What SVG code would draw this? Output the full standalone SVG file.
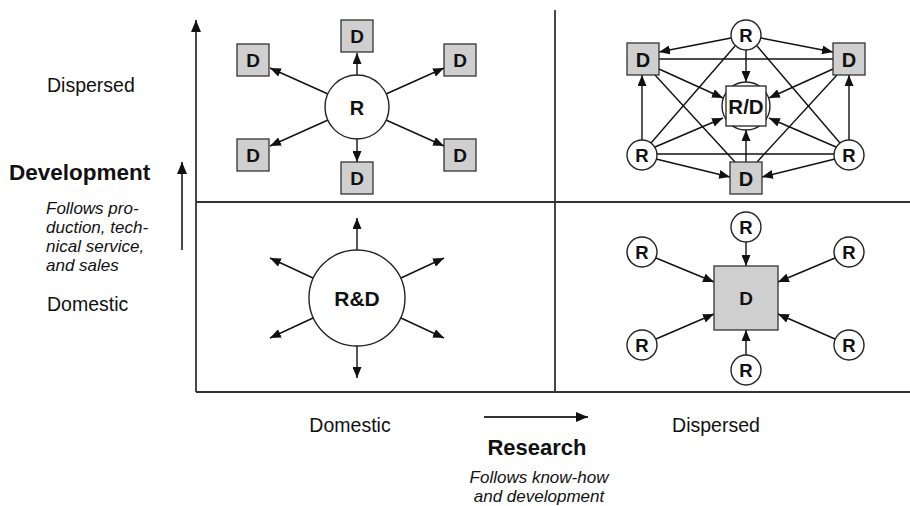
<svg xmlns="http://www.w3.org/2000/svg" width="910" height="506" viewBox="0 0 910 506">
<style>
.ax{stroke:#333;stroke-width:1.8;fill:none}
.c{stroke:#111;stroke-width:1.4;fill:none}
.ca{stroke:#111;stroke-width:1.4;fill:none;marker-end:url(#arr)}
.sq{fill:#cfcfcf;stroke:#333;stroke-width:1.3}
.ci{fill:#fff;stroke:#222;stroke-width:1.4}
.nt{font-family:"Liberation Sans",Arial,sans-serif;font-weight:bold;fill:#111;text-anchor:middle}
.lb{font-family:"Liberation Sans",Arial,sans-serif;fill:#111}
.it{font-family:"Liberation Sans",Arial,sans-serif;font-style:italic;fill:#111;font-size:17px}
</style>
<defs>
<marker id="arr" markerUnits="userSpaceOnUse" markerWidth="11" markerHeight="9" refX="11" refY="4.5" orient="auto"><path d="M0,0 L11,4.5 L0,9 z" fill="#111"/></marker>
<marker id="big" markerUnits="userSpaceOnUse" markerWidth="12" markerHeight="10" refX="12" refY="5" orient="auto"><path d="M0,0 L12,5 L0,10 z" fill="#111"/></marker>
</defs>

<g id="axes">
<line class="ax" x1="196" y1="392" x2="196" y2="20" marker-end="url(#big)"/>
<line class="ax" x1="196" y1="392" x2="910" y2="392"/>
<line class="ax" x1="196" y1="202" x2="910" y2="202"/>
<line class="ax" x1="555" y1="10" x2="555" y2="392"/>
<line class="ax" x1="182" y1="250" x2="182" y2="162" marker-end="url(#big)"/>
<line class="ax" x1="484" y1="417" x2="588" y2="417" marker-end="url(#big)"/>
</g>

<g id="labels">
<text class="lb" x="47" y="92" font-size="19.5">Dispersed</text>
<text class="lb" x="9" y="180" font-size="22.5" font-weight="bold">Development</text>
<text class="it" x="46" y="214" font-size="17.6">Follows pro-</text>
<text class="it" x="46" y="233" font-size="17.6">duction, tech-</text>
<text class="it" x="46" y="252" font-size="17.6">nical service,</text>
<text class="it" x="46" y="271" font-size="17.6">and sales</text>
<text class="lb" x="47" y="311" font-size="19.5">Domestic</text>
<text class="lb" x="350" y="432" font-size="19.5" text-anchor="middle">Domestic</text>
<text class="lb" x="716" y="432" font-size="19.5" text-anchor="middle">Dispersed</text>
<text class="lb" x="537" y="455" font-size="22" font-weight="bold" text-anchor="middle">Research</text>
<text class="it" x="539" y="483" text-anchor="middle">Follows know-how</text>
<text class="it" x="539" y="502" text-anchor="middle">and development</text>
</g>

<g id="connectors">
<!-- top-left -->
<line class="ca" x1="357" y1="75" x2="357" y2="53"/>
<line class="ca" x1="328" y1="94" x2="270" y2="68"/>
<line class="ca" x1="386" y1="94" x2="444" y2="68"/>
<line class="ca" x1="328" y1="120" x2="270" y2="146"/>
<line class="ca" x1="386" y1="120" x2="444" y2="146"/>
<line class="ca" x1="357" y1="139" x2="357" y2="162"/>
<!-- bottom-left -->
<line class="ca" x1="357" y1="250" x2="357" y2="218"/>
<line class="ca" x1="357" y1="346" x2="357" y2="378"/>
<line class="ca" x1="313" y1="278" x2="270" y2="258"/>
<line class="ca" x1="401" y1="278" x2="444" y2="258"/>
<line class="ca" x1="313" y1="318" x2="270" y2="338"/>
<line class="ca" x1="401" y1="318" x2="444" y2="338"/>
<!-- bottom-right -->
<line class="ca" x1="746" y1="242" x2="746" y2="266"/>
<line class="ca" x1="746" y1="355" x2="746" y2="330"/>
<line class="ca" x1="656" y1="258" x2="714" y2="282"/>
<line class="ca" x1="835" y1="258" x2="778" y2="282"/>
<line class="ca" x1="656" y1="339" x2="714" y2="314"/>
<line class="ca" x1="835" y1="339" x2="778" y2="314"/>
<!-- top-right -->
<line class="c" x1="735" y1="46" x2="651" y2="143"/>
<line class="c" x1="757" y1="46" x2="840" y2="143"/>
<line class="c" x1="655" y1="75" x2="735" y2="162"/>
<line class="c" x1="837" y1="75" x2="757" y2="162"/>
<line class="c" x1="659" y1="59" x2="833" y2="59"/>
<line class="c" x1="657" y1="154" x2="834" y2="154"/>
<line class="ca" x1="731" y1="38" x2="659" y2="52"/>
<line class="ca" x1="761" y1="38" x2="833" y2="52"/>
<line class="ca" x1="746" y1="50" x2="746" y2="82"/>
<line class="ca" x1="659" y1="69" x2="723" y2="98"/>
<line class="ca" x1="833" y1="69" x2="769" y2="98"/>
<line class="ca" x1="642" y1="140" x2="642" y2="75"/>
<line class="ca" x1="849" y1="140" x2="849" y2="75"/>
<line class="ca" x1="655" y1="147" x2="723" y2="118"/>
<line class="ca" x1="836" y1="147" x2="769" y2="118"/>
<line class="ca" x1="746" y1="162" x2="746" y2="130"/>
<line class="ca" x1="656" y1="159" x2="730" y2="177"/>
<line class="ca" x1="835" y1="159" x2="762" y2="177"/>
</g>

<!-- top-left nodes -->
<g id="tl-r"><circle class="ci" cx="357" cy="107" r="32"/><text class="nt" x="357" y="114.5" font-size="20">R</text></g>
<g id="tl-d1"><rect class="sq" x="341" y="20" width="32" height="32"/><text class="nt" x="357" y="43" font-size="19">D</text></g>
<g id="tl-d2"><rect class="sq" x="237" y="44" width="32" height="32"/><text class="nt" x="253" y="67" font-size="19">D</text></g>
<g id="tl-d3"><rect class="sq" x="444" y="44" width="32" height="32"/><text class="nt" x="460" y="67" font-size="19">D</text></g>
<g id="tl-d4"><rect class="sq" x="237" y="139" width="32" height="32"/><text class="nt" x="253" y="162" font-size="19">D</text></g>
<g id="tl-d5"><rect class="sq" x="444" y="139" width="32" height="32"/><text class="nt" x="460" y="162" font-size="19">D</text></g>
<g id="tl-d6"><rect class="sq" x="341" y="162" width="32" height="32"/><text class="nt" x="357" y="185" font-size="19">D</text></g>

<!-- top-right nodes -->
<g id="tr-rd"><circle class="ci" cx="746" cy="106" r="24"/><rect x="726" y="86" width="40" height="40" fill="#fff" stroke="#222" stroke-width="1.3"/><text class="nt" x="746" y="113.5" font-size="20.5">R/D</text></g>
<g id="tr-r1"><circle class="ci" cx="746" cy="35" r="15"/><text class="nt" x="746" y="41.5" font-size="18.5">R</text></g>
<g id="tr-r2"><circle class="ci" cx="642" cy="155" r="15"/><text class="nt" x="642" y="161.5" font-size="18.5">R</text></g>
<g id="tr-r3"><circle class="ci" cx="849" cy="155" r="15"/><text class="nt" x="849" y="161.5" font-size="18.5">R</text></g>
<g id="tr-d1"><rect class="sq" x="627" y="43" width="32" height="32"/><text class="nt" x="643" y="66.5" font-size="20">D</text></g>
<g id="tr-d2"><rect class="sq" x="833" y="43" width="32" height="32"/><text class="nt" x="849" y="66.5" font-size="20">D</text></g>
<g id="tr-d3"><rect class="sq" x="730" y="162" width="32" height="32"/><text class="nt" x="746" y="185.5" font-size="20">D</text></g>

<!-- bottom-left node -->
<g id="bl-rd"><circle class="ci" cx="357" cy="298" r="48"/><text class="nt" x="357" y="305.5" font-size="21">R&amp;D</text></g>

<!-- bottom-right nodes -->
<g id="br-d"><rect class="sq" x="714" y="266" width="64" height="64"/><text class="nt" x="746" y="305" font-size="19">D</text></g>
<g id="br-r1"><circle class="ci" cx="746" cy="227" r="15"/><text class="nt" x="746" y="233.5" font-size="18.5">R</text></g>
<g id="br-r2"><circle class="ci" cx="642" cy="252" r="15"/><text class="nt" x="642" y="258.5" font-size="18.5">R</text></g>
<g id="br-r3"><circle class="ci" cx="849" cy="252" r="15"/><text class="nt" x="849" y="258.5" font-size="18.5">R</text></g>
<g id="br-r4"><circle class="ci" cx="642" cy="345" r="15"/><text class="nt" x="642" y="351.5" font-size="18.5">R</text></g>
<g id="br-r5"><circle class="ci" cx="849" cy="345" r="15"/><text class="nt" x="849" y="351.5" font-size="18.5">R</text></g>
<g id="br-r6"><circle class="ci" cx="746" cy="370" r="15"/><text class="nt" x="746" y="376.5" font-size="18.5">R</text></g>
</svg>
